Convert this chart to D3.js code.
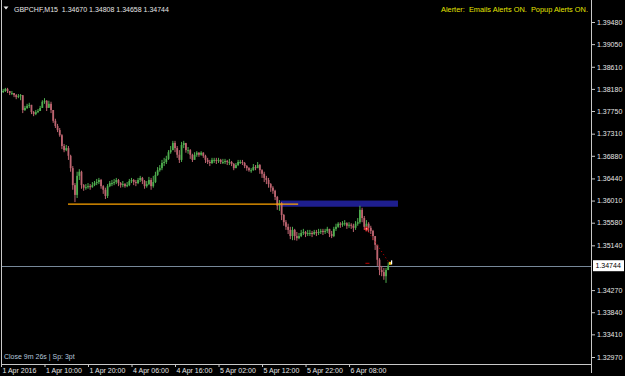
<!DOCTYPE html>
<html><head><meta charset="utf-8">
<script src="https://cdn.jsdelivr.net/npm/d3@7"></script>
<style>html,body{margin:0;padding:0;background:#000;overflow:hidden}</style>
</head><body>
<svg id="c" width="625" height="376"></svg>
<script>
// ---------- data (each candle = one visible column) ----------
const symbol = "GBPCHF,M15";
const lastBar = {open: "1.34670", high: "1.34808", low: "1.34658", close: "1.34744"};
const bidPrice = 1.34744;
const firstOpen = 1.3810;
const closes = [
1.3812,1.3814,1.3818,1.3814,1.3810,1.3810,1.3806,1.3802,1.3804,1.3806,
1.3777,1.3781,1.3785,1.3787,1.3773,1.3769,1.3773,1.3775,1.3781,1.3793,
1.3795,1.3781,1.3789,1.3777,1.3756,1.3746,1.3738,1.3728,1.3707,1.3699,
1.3703,1.3688,1.3664,1.3631,1.3612,1.3649,1.3657,1.3631,1.3626,1.3627,
1.3629,1.3627,1.3631,1.3635,1.3637,1.3641,1.3629,1.3622,1.3610,1.3629,
1.3635,1.3635,1.3637,1.3641,1.3635,1.3631,1.3633,1.3629,1.3631,1.3639,
1.3641,1.3637,1.3635,1.3641,1.3645,1.3639,1.3629,1.3633,1.3641,1.3629,
1.3637,1.3651,1.3660,1.3664,1.3674,1.3676,1.3682,1.3695,1.3699,1.3713,
1.3703,1.3690,1.3680,1.3709,1.3713,1.3699,1.3699,1.3690,1.3680,1.3690,
1.3694,1.3690,1.3694,1.3688,1.3680,1.3676,1.3674,1.3680,1.3680,1.3678,
1.3680,1.3676,1.3676,1.3678,1.3676,1.3676,1.3672,1.3664,1.3670,1.3676,
1.3676,1.3674,1.3668,1.3664,1.3660,1.3660,1.3666,1.3664,1.3670,1.3660,
1.3653,1.3645,1.3641,1.3633,1.3626,1.3620,1.3608,1.3591,1.3596,1.3573,
1.3559,1.3550,1.3544,1.3532,1.3544,1.3532,1.3528,1.3532,1.3538,1.3540,
1.3536,1.3538,1.3538,1.3536,1.3540,1.3538,1.3540,1.3542,1.3540,1.3542,
1.3546,1.3536,1.3532,1.3546,1.3550,1.3556,1.3554,1.3557,1.3557,1.3552,
1.3554,1.3552,1.3548,1.3556,1.3559,1.3583,1.3567,1.3550,1.3556,1.3548,
1.3542,1.3532,1.3515,1.3486,1.3466,1.3462,1.3454,1.3466,1.34744];
const highs = [
1.3816,1.3818,1.3820,1.3820,1.3814,1.3814,1.3810,1.3808,1.3808,1.3808,
1.3804,1.3785,1.3789,1.3791,1.3787,1.3775,1.3777,1.3779,1.3785,1.3796,
1.3800,1.3796,1.3795,1.3793,1.3777,1.3760,1.3750,1.3742,1.3730,1.3711,
1.3709,1.3707,1.3690,1.3668,1.3635,1.3657,1.3662,1.3659,1.3633,1.3633,
1.3635,1.3633,1.3637,1.3639,1.3643,1.3645,1.3643,1.3631,1.3626,1.3633,
1.3639,1.3641,1.3643,1.3645,1.3643,1.3637,1.3639,1.3635,1.3637,1.3643,
1.3645,1.3643,1.3641,1.3645,1.3649,1.3647,1.3641,1.3639,1.3647,1.3645,
1.3649,1.3657,1.3666,1.3670,1.3680,1.3684,1.3688,1.3699,1.3707,1.3717,
1.3717,1.3707,1.3699,1.3715,1.3717,1.3711,1.3705,1.3701,1.3692,1.3695,
1.3697,1.3695,1.3697,1.3695,1.3690,1.3684,1.3680,1.3684,1.3684,1.3684,
1.3684,1.3682,1.3682,1.3682,1.3680,1.3682,1.3678,1.3674,1.3674,1.3680,
1.3680,1.3680,1.3676,1.3670,1.3666,1.3664,1.3672,1.3670,1.3676,1.3672,
1.3662,1.3657,1.3649,1.3645,1.3635,1.3629,1.3622,1.3610,1.3602,1.3598,
1.3575,1.3563,1.3556,1.3550,1.3550,1.3546,1.3540,1.3538,1.3544,1.3546,
1.3542,1.3544,1.3544,1.3542,1.3544,1.3544,1.3546,1.3546,1.3546,1.3546,
1.3550,1.3546,1.3542,1.3550,1.3556,1.3559,1.3559,1.3561,1.3563,1.3559,
1.3559,1.3557,1.3556,1.3561,1.3567,1.3591,1.3587,1.3571,1.3563,1.3559,
1.3552,1.3544,1.3532,1.3515,1.3489,1.3474,1.3470,1.3470,1.34808];
const lows = [
1.3808,1.3810,1.3812,1.3810,1.3806,1.3806,1.3802,1.3798,1.3800,1.3796,
1.3771,1.3775,1.3779,1.3781,1.3769,1.3765,1.3767,1.3771,1.3775,1.3781,
1.3789,1.3775,1.3783,1.3771,1.3752,1.3742,1.3734,1.3725,1.3701,1.3695,
1.3697,1.3680,1.3657,1.3622,1.3598,1.3606,1.3641,1.3624,1.3620,1.3622,
1.3624,1.3622,1.3626,1.3629,1.3631,1.3633,1.3624,1.3614,1.3604,1.3606,
1.3627,1.3629,1.3631,1.3633,1.3629,1.3626,1.3627,1.3626,1.3627,1.3629,
1.3635,1.3631,1.3629,1.3633,1.3637,1.3633,1.3624,1.3626,1.3631,1.3622,
1.3626,1.3635,1.3649,1.3657,1.3660,1.3668,1.3672,1.3680,1.3692,1.3699,
1.3695,1.3684,1.3674,1.3676,1.3703,1.3694,1.3692,1.3682,1.3676,1.3682,
1.3686,1.3686,1.3688,1.3684,1.3674,1.3672,1.3668,1.3672,1.3674,1.3672,
1.3674,1.3672,1.3672,1.3672,1.3670,1.3670,1.3668,1.3660,1.3664,1.3668,
1.3672,1.3670,1.3664,1.3659,1.3657,1.3655,1.3659,1.3660,1.3664,1.3653,
1.3645,1.3637,1.3633,1.3626,1.3618,1.3614,1.3602,1.3583,1.3581,1.3563,
1.3552,1.3544,1.3536,1.3526,1.3524,1.3524,1.3523,1.3526,1.3530,1.3534,
1.3530,1.3532,1.3532,1.3530,1.3534,1.3532,1.3534,1.3536,1.3534,1.3536,
1.3538,1.3530,1.3528,1.3530,1.3542,1.3548,1.3548,1.3550,1.3552,1.3546,
1.3548,1.3546,1.3540,1.3544,1.3552,1.3556,1.3559,1.3544,1.3548,1.3540,
1.3536,1.3524,1.3505,1.3474,1.3456,1.3454,1.3447,1.3441,1.34658];
const timeTickIndex = [0, 20, 40, 60, 80, 100, 120, 140, 160];
const timeTickLabels = ["1 Apr 2016","1 Apr 10:00","1 Apr 20:00","4 Apr 06:00","4 Apr 16:00","5 Apr 02:00","5 Apr 12:00","5 Apr 22:00","6 Apr 08:00"];
const priceTicks = [1.39480,1.39050,1.38610,1.38180,1.37750,1.37310,1.36880,1.36440,1.36010,1.35580,1.35140,1.34270,1.33840,1.33410,1.32970];
const supportLine = {from: 30.8, to: 136.6, price: 1.3594};
const zone = {from: 128.5, to: 182.5, top: 1.3601, bottom: 1.3589};
const trade = {openIndex: 168, openPrice: 1.3546, closeIndex: 178.6, closePrice: 1.3479, slPrice: 1.3479};
const alerterText = "Alerter:  Emails Alerts ON.  Popup Alerts ON.";
const statusText = "Close 9m 26s | Sp: 3pt";

// ---------- layout ----------
const W = 625, H = 376;
const plotRight = 591, plotBottom = 364;
const FONT = "'Liberation Sans', Arial, sans-serif";
const upColor = "#4fae4f", downColor = "#bd6470";

const svg = d3.select("#c");
svg.append("rect").attr("width", W).attr("height", H).attr("fill", "#000");

const x = d3.scaleLinear().domain([0, closes.length - 1]).range([1, 388.2]);
const y = d3.scaleLinear().domain([1.32970, 1.39480]).range([357, 22]);

svg.append("clipPath").attr("id", "plot").append("rect")
  .attr("x", 1).attr("y", 0).attr("width", plotRight - 1).attr("height", plotBottom);
const plot = svg.append("g").attr("clip-path", "url(#plot)");

// zone rectangle
plot.append("rect")
  .attr("x", x(zone.from)).attr("width", x(zone.to) - x(zone.from))
  .attr("y", y(zone.top)).attr("height", y(zone.bottom) - y(zone.top))
  .attr("fill", "#1e1e8e");

// bid line
plot.append("line").attr("x1", 0).attr("x2", plotRight)
  .attr("y1", Math.round(y(bidPrice)) + 0.5).attr("y2", Math.round(y(bidPrice)) + 0.5)
  .attr("stroke", "#778899").attr("stroke-width", 1);

// candles
const candles = closes.map((c, i) => ({
  i, open: i === 0 ? firstOpen : closes[i - 1], close: c, high: highs[i], low: lows[i]
}));
const cg = plot.append("g");
cg.selectAll("line.wick").data(candles).join("line")
  .attr("class", "wick")
  .attr("x1", d => x(d.i)).attr("x2", d => x(d.i))
  .attr("y1", d => y(d.high)).attr("y2", d => y(d.low))
  .attr("stroke", d => d.close >= d.open ? upColor : downColor)
  .attr("stroke-width", 1);
cg.selectAll("rect.body").data(candles).join("rect")
  .attr("class", "body")
  .attr("x", d => x(d.i) - 0.9).attr("width", 1.8)
  .attr("y", d => y(Math.max(d.open, d.close)))
  .attr("height", d => Math.max(1, Math.abs(y(d.open) - y(d.close))))
  .attr("fill", d => d.close >= d.open ? upColor : downColor);

// orange support trend line
plot.append("line")
  .attr("x1", x(supportLine.from)).attr("x2", x(supportLine.to))
  .attr("y1", y(supportLine.price)).attr("y2", y(supportLine.price))
  .attr("stroke", "#ffa500").attr("stroke-width", 1.4);

// trade markers
plot.append("line")
  .attr("x1", x(trade.openIndex)).attr("y1", y(trade.openPrice))
  .attr("x2", x(trade.closeIndex)).attr("y2", y(trade.closePrice))
  .attr("stroke", "#b00000").attr("stroke-width", 1).attr("stroke-dasharray", "1.2,2.6");
plot.append("line")
  .attr("x1", x(trade.openIndex) - 1).attr("x2", x(trade.openIndex) + 3)
  .attr("y1", y(trade.slPrice)).attr("y2", y(trade.slPrice))
  .attr("stroke", "#a00000").attr("stroke-width", 1.2);
const mk = plot.append("g").attr("transform", `translate(${x(trade.openIndex)},${y(trade.openPrice)})`);
mk.append("rect").attr("x", -2.5).attr("y", -1).attr("width", 5).attr("height", 2).attr("fill", "#e03030");
mk.append("rect").attr("x", -1).attr("y", -2.5).attr("width", 2).attr("height", 5).attr("fill", "#e03030");
mk.append("rect").attr("x", -0.5).attr("y", -0.5).attr("width", 1).attr("height", 1).attr("fill", "#fff");
const mk2 = plot.append("g").attr("transform", `translate(${x(trade.closeIndex) + 1},${y(trade.closePrice)})`);
mk2.append("rect").attr("x", -1.5).attr("y", -1.5).attr("width", 2.5).attr("height", 3).attr("fill", "#f0c020");
mk2.append("rect").attr("x", 0.5).attr("y", -3).attr("width", 1.2).attr("height", 4).attr("fill", "#fff");

// frame
const frame = svg.append("g").attr("stroke", "#c8c8c8").attr("stroke-width", 1).attr("shape-rendering", "crispEdges");
frame.append("line").attr("x1", 1.5).attr("x2", 1.5).attr("y1", 0).attr("y2", plotBottom);
frame.append("line").attr("x1", 1).attr("x2", plotRight + 1).attr("y1", plotBottom + 0.5).attr("y2", plotBottom + 0.5);
frame.append("line").attr("x1", plotRight + 0.5).attr("x2", plotRight + 0.5).attr("y1", 0).attr("y2", plotBottom + 9);

// price axis
const gy = svg.append("g").attr("transform", `translate(${plotRight + 1},0)`)
  .call(d3.axisRight(y).tickValues(priceTicks).tickFormat(d3.format(".5f")).tickSize(3).tickPadding(2));
gy.select(".domain").remove();
gy.selectAll("line").attr("stroke", "#c8c8c8");
gy.selectAll("text").attr("fill", "#e6e6e6").style("font-family", FONT).style("font-size", "7px");

// bid label
const by = y(bidPrice);
svg.append("rect").attr("x", 593).attr("y", by - 5.5).attr("width", 31).attr("height", 11).attr("fill", "#fff");
svg.append("text").attr("x", 595.5).attr("y", by + 2.5).text(d3.format(".5f")(bidPrice))
  .attr("fill", "#000").style("font-family", FONT).style("font-size", "7px");

// time axis
const gx = svg.append("g").attr("transform", `translate(0,${plotBottom})`)
  .call(d3.axisBottom(x).tickValues(timeTickIndex).tickFormat((d, i) => timeTickLabels[i]).tickSize(3).tickPadding(1));
gx.select(".domain").remove();
gx.selectAll("line").attr("stroke", "#c8c8c8");
gx.selectAll("text").attr("fill", "#e6e6e6").attr("text-anchor", "start").attr("x", 1)
  .style("font-family", FONT).style("font-size", "7px");

// header texts
svg.append("path").attr("d", "M3.5,6.5 L8.5,6.5 L6,9.5 Z").attr("fill", "#e6e6e6");
svg.append("text").attr("x", 14).attr("y", 12)
  .text(`${symbol}  ${lastBar.open} ${lastBar.high} ${lastBar.low} ${lastBar.close}`)
  .attr("fill", "#e6e6e6").style("font-family", FONT).style("font-size", "7px").attr("xml:space", "preserve")
  .style("white-space", "pre");
svg.append("text").attr("x", 588).attr("y", 12).attr("text-anchor", "end").text(alerterText)
  .attr("fill", "#e4e400").style("font-family", FONT).style("font-size", "7.4px").style("white-space", "pre");
svg.append("text").attr("x", 4).attr("y", 359).text(statusText)
  .attr("fill", "#b4c6dc").style("font-family", FONT).style("font-size", "7px");
</script>
</body></html>
